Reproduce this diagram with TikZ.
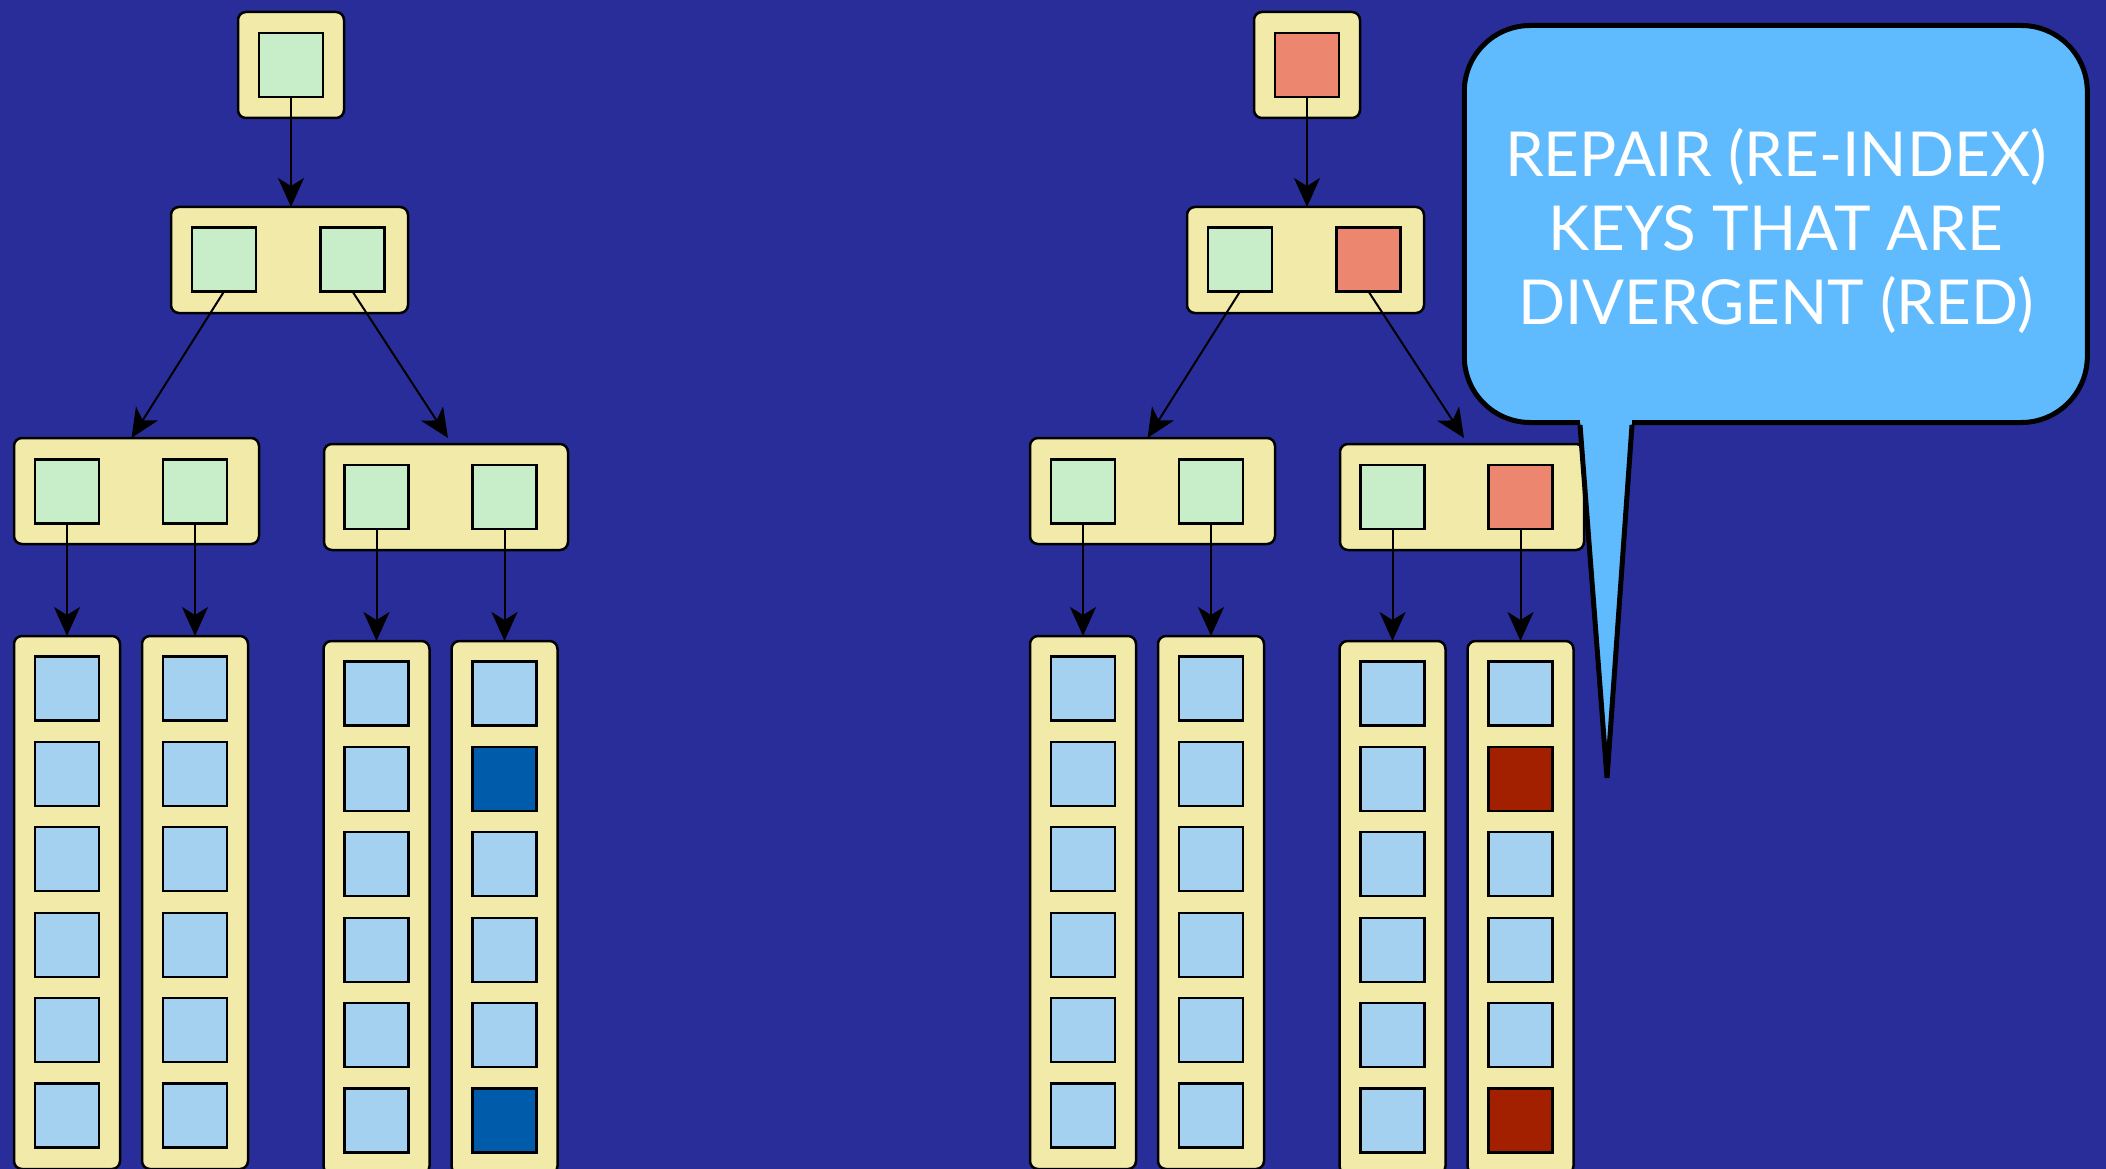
\documentclass[tikz,border=0pt]{standalone}
\usepackage{fontspec}
\setmainfont{Lato}
\usetikzlibrary{arrows.meta}
\definecolor{bgblue}{HTML}{292D99}
\definecolor{boxyellow}{HTML}{F2EAA9}
\definecolor{keygreen}{HTML}{C8EDC9}
\definecolor{leafblue}{HTML}{A5D1F1}
\definecolor{leafdark}{HTML}{005BAA}
\definecolor{keysalmon}{HTML}{EC866E}
\definecolor{leafred}{HTML}{A22000}
\definecolor{bubblefill}{HTML}{5FBBFD}
\tikzset{
  pagebox/.style={draw=black, line width=2.5pt, fill=boxyellow, rounded corners=8pt, inner sep=0pt, outer sep=0pt},
  keysq/.style={draw=black, line width=2.2pt, fill=#1, minimum width=64pt, minimum height=64pt, inner sep=0pt, outer sep=0pt},
  keysq/.default=keygreen,
  link/.style={-{Stealth[length=29pt,width=26pt,inset=8pt]}, line width=2pt},
  bubble/.style={draw=black, line width=5pt, fill=bubblefill, rounded corners=66pt, minimum width=623pt, minimum height=397pt, inner sep=0pt},
  bubtext/.style={text=white, align=center, inner sep=0pt, font=\fontsize{62}{74}\selectfont},
}
\newcommand\btree[4]{%
\begin{scope}[xshift=#1pt]
  \node[pagebox, minimum width=106pt, minimum height=106pt] (#2root) at (291,65) {};
  \node[keysq=#3] (#2r1) at (291,65) {};
  \node[pagebox, minimum width=237pt, minimum height=106pt] (#2l2) at (289.5,260) {};
  \node[keysq] (#2l2a) at (224,259.5) {};
  \node[keysq=#3] (#2l2b) at (352.5,259.5) {};
  \node[pagebox, minimum width=245pt, minimum height=106pt] (#2l3a) at (136.5,491) {};
  \node[keysq] (#2l3aa) at (67,491.5) {};
  \node[keysq] (#2l3ab) at (195,491.5) {};
  \node[pagebox, minimum width=244pt, minimum height=106pt] (#2l3b) at (446,497) {};
  \node[keysq] (#2l3ba) at (376.5,497) {};
  \node[keysq=#3] (#2l3bb) at (504.5,497) {};
  \foreach \cx/\cy/\cn in {67/902.5/1, 195/902.5/2, 376.5/907.5/3, 504.5/907.5/4} {
    \node[pagebox, minimum width=106pt, minimum height=533pt] (#2c\cn) at (\cx,\cy) {};
    \foreach \r in {0,...,5} {
      \pgfmathsetmacro\sy{\cy-214+85.4*\r}
      \def\lc{leafblue}
      \ifnum\cn=4 \ifnum\r=1 \def\lc{#4}\fi\ifnum\r=5 \def\lc{#4}\fi\fi
      \node[keysq=\lc] (#2c\cn r\r) at (\cx,\sy) {};
    }
  }
  \draw[link] (#2r1.south) -- (#2r1.south |- #2l2.north);
  \draw[link] (#2l2a.south) -- ([xshift=-5pt]#2l3a.north);
  \draw[link] (#2l2b.south) -- ([xshift=2pt,yshift=6pt]#2l3b.north);
  \draw[link] (#2l3aa.south) -- (#2c1.north);
  \draw[link] (#2l3ab.south) -- (#2c2.north);
  \draw[link] (#2l3ba.south) -- (#2c3.north);
  \draw[link] (#2l3bb.south) -- (#2c4.north);
\end{scope}}
\begin{document}
\begin{tikzpicture}[x=1pt,y=-1pt]
  \useasboundingbox (0,0) rectangle (2106,1169);
  \clip (0,0) rectangle (2106,1169);
  \fill[bgblue] (0,0) rectangle (2106,1169);
  \btree{0}{L}{keygreen}{leafdark}
  \btree{1016}{R}{keysalmon}{leafred}
  \node[bubble] (bub) at (1775.8,224) {};
  \coordinate (tip) at (1607,778);
  \fill[bubblefill] ([xshift=-195.8pt,yshift=5pt]bub.south) -- (tip) -- ([xshift=-143.8pt,yshift=5pt]bub.south) -- cycle;
  \draw[line width=5pt] ([xshift=-195.8pt]bub.south) -- (tip) -- ([xshift=-143.8pt]bub.south);
  \node[bubtext] (msg) at ([yshift=-7pt]bub.center) {REPAIR (RE-INDEX)\\KEYS THAT ARE\\DIVERGENT (RED)};
\end{tikzpicture}
\end{document}
